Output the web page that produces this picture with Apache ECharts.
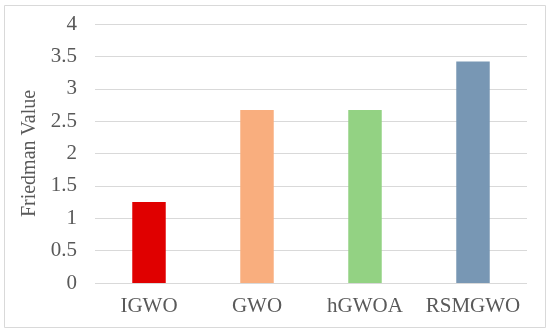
<!DOCTYPE html>
<html>
<head>
<meta charset="utf-8">
<script src="https://cdn.jsdelivr.net/npm/echarts@6/dist/echarts.min.js"></script>
<style>
    html, body { margin: 0; padding: 0; background: #fff; }
    #chart { width: 550px; height: 333px; }
</style>
</head>
<body>
<div id="chart"></div>
<script>
    // data
    var categories = ['IGWO', 'GWO', 'hGWOA', 'RSMGWO'];
    var friedman = [1.25, 2.67, 2.67, 3.42];
    var barColors = ['#E00000', '#F9AE7E', '#93D283', '#7897B4'];

    var chart = echarts.init(document.getElementById('chart'));
    var font = '"Liberation Serif", "Times New Roman", serif';

    chart.setOption({
        animation: false,
        graphic: [{
            type: 'rect',
            shape: { x: 4.5, y: 5.5, width: 541, height: 322 },
            style: { fill: 'none', stroke: '#d9d9d9', lineWidth: 1 },
            silent: true
        }],
        grid: {
            left: 95,
            right: 23,
            top: 24,
            bottom: 50
        },
        xAxis: {
            type: 'category',
            data: categories,
            axisLine: { show: false },
            axisTick: { show: false },
            axisLabel: {
                interval: 0,
                fontFamily: font,
                fontSize: 21,
                color: '#595959',
                margin: 13
            }
        },
        yAxis: {
            type: 'value',
            min: 0,
            max: 4,
            interval: 0.5,
            name: 'Friedman Value',
            nameLocation: 'middle',
            nameGap: 50,
            nameTextStyle: {
                fontFamily: font,
                fontSize: 20,
                color: '#595959'
            },
            axisLabel: {
                fontFamily: font,
                fontSize: 21,
                color: '#595959',
                margin: 18
            },
            splitLine: { lineStyle: { color: '#d9d9d9', width: 1 } }
        },
        series: [{
            type: 'bar',
            barWidth: '31%',
            data: friedman.map(function (v, i) {
                return { value: v, itemStyle: { color: barColors[i] } };
            })
        }]
    });
</script>
</body>
</html>
